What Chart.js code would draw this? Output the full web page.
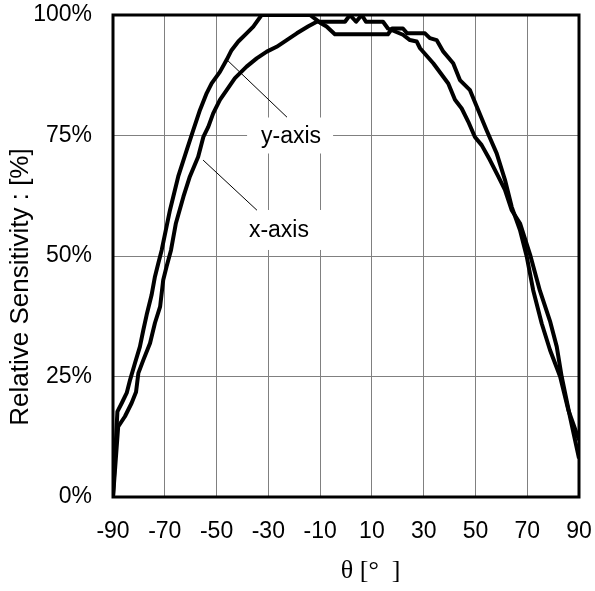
<!DOCTYPE html>
<html>
<head>
<meta charset="utf-8">
<script src="https://cdn.jsdelivr.net/npm/chart.js@4.4.1/dist/chart.umd.min.js"></script>
<style>
  html, body { margin: 0; padding: 0; background: #fff; }
</style>
</head>
<body>
<canvas id="chart" width="595" height="591"></canvas>
<script>
// sensitivity curves (angle in degrees, value in %)
const thetaY = [-90, -88.3, -86.6, -84.7, -83.4, -81.5, -79.6, -78.3, -77.0, -75.1, -73.8, -72.5, -71.2,
    -68.0, -64.8, -61.5, -59.0, -56.4, -53.8, -51.9, -48.7, -46.1, -44.2, -41.6, -38.4, -35.8, -32.6,
    -13.9, -10.0, -7.5, -4.3, 16.2, 17.8, 22.0, 23.6, 30.5, 32.4, 35.0, 37.6, 41.4, 44.0, 47.9, 50.5,
    54.3, 58.2, 61.4, 64.0, 67.2, 69.8, 72.3, 75.6, 78.8, 82.7, 85.9, 89.1, 90];
const sensY = [0, 17.7, 19.5, 21.6, 24.3, 27.8, 31.2, 34.6, 37.8, 41.9, 45.7, 48.5, 51.2,
    59.5, 66.5, 72, 76.1, 80.3, 83.8, 85.8, 88.2, 90.7, 92.7, 94.5, 96.2, 97.6, 100,
    100, 98.4, 97.6, 96, 96, 97.2, 97.2, 96.2, 96.2, 95.2, 94.8, 92.4, 90, 86.5, 84.4, 81,
    76.1, 71.3, 65.8, 60.2, 55.4, 49.9, 42.9, 36, 30.5, 25, 18, 13.2, 11.8];

const thetaX = [-90, -88.0, -85.4, -82.8, -81.1, -80.2, -78.3, -75.7, -73.8, -71.8, -70.6, -69.3, -67.6,
    -65.7, -62.8, -60.3, -57.1, -55.1, -53.2, -51.3, -48.7, -46.1, -42.9, -38.4, -34.5, -30.6, -26.8,
    -22.9, -19.0, -14.7, -11.3, -0.4, 1.5, 3.9, 6.1, 7.7, 14.3, 16.2, 22.0, 24.7, 27.3, 28.6, 33.7,
    39.5, 42.1, 44.7, 47.2, 49.8, 52.4, 55.6, 58.8, 61.4, 64.0, 67.2, 71.1, 74.9, 78.8, 81.4, 83.3,
    86.5, 90];
const sensX = [0, 14.6, 16.7, 19.5, 21.8, 25.7, 28.4, 31.9, 36.1, 39.5, 45, 47.8, 51.2,
    56.8, 62.3, 66.5, 70.6, 74.7, 76.8, 79.6, 82.4, 84.4, 86.9, 89.3, 91, 92.4, 93.4,
    94.8, 96.2, 97.6, 98.6, 98.6, 100, 98.6, 100, 98.6, 98.6, 97.2, 95.9, 94.8, 94.5, 93.1, 90,
    85.8, 82.4, 80.6, 77.9, 74.7, 73, 69.9, 66.5, 63.7, 59.5, 56.8, 50.3, 42.8, 36.5, 31.2, 25,
    16.7, 8];

const xTicks = [-90, -70, -50, -30, -10, 10, 30, 50, 70, 90];
const yTicks = [0, 25, 50, 75, 100];
const seriesNames = ['y-axis', 'x-axis'];

// callout labels, in data units: label centre, leader start and end
const callouts = [
    { text: seriesNames[0], at: [-21.6, 75], from: [-45.6, 90.5], to: [-22.8, 78.8], w: 86, h: 36 },
    { text: seriesNames[1], at: [-26.3, 55.4], from: [-55.2, 69.9], to: [-34.4, 59.5], w: 88, h: 40 }
];

const SANS = '"Liberation Sans", Arial, sans-serif';
const SERIF = '"Liberation Serif", "Times New Roman", serif';

const toPoints = (xs, ys) => xs.map((x, i) => ({ x: x, y: ys[i] }));

// keep the plot box where the original has it: no extra room for tick label overflow
const noPad = s => { s.paddingTop = s.paddingBottom = s.paddingLeft = s.paddingRight = 0; };

const overlay = {
    id: 'overlay',
    beforeDatasetsDraw(chart) {
        const ctx = chart.ctx, sx = chart.scales.x, sy = chart.scales.y;
        ctx.save();
        ctx.fillStyle = '#fff';
        callouts.forEach(c => {
            const cx = sx.getPixelForValue(c.at[0]);
            const cy = sy.getPixelForValue(c.at[1]);
            ctx.fillRect(cx - c.w / 2, cy - c.h / 2, c.w, c.h);
        });
        ctx.restore();
    },
    afterDatasetsDraw(chart) {
        const ctx = chart.ctx, sx = chart.scales.x, sy = chart.scales.y;
        const a = chart.chartArea;
        ctx.save();
        // leader lines and labels
        ctx.strokeStyle = '#000';
        ctx.lineWidth = 1;
        ctx.fillStyle = '#000';
        ctx.font = '23px ' + SANS;
        ctx.textAlign = 'center';
        ctx.textBaseline = 'middle';
        callouts.forEach(c => {
            ctx.beginPath();
            ctx.moveTo(sx.getPixelForValue(c.from[0]), sy.getPixelForValue(c.from[1]));
            ctx.lineTo(sx.getPixelForValue(c.to[0]), sy.getPixelForValue(c.to[1]));
            ctx.stroke();
            ctx.fillText(c.text, sx.getPixelForValue(c.at[0]) + 1, sy.getPixelForValue(c.at[1]) + 1);
        });
        // plot frame
        ctx.lineWidth = 3;
        ctx.strokeRect(a.left, a.top, a.right - a.left, a.bottom - a.top);
        // axis titles
        ctx.font = '26px ' + SERIF;
        ctx.fillText('θ [°  ]', a.left + (a.right - a.left) * 0.553, 571);
        ctx.translate(21, 287);
        ctx.rotate(-Math.PI / 2);
        ctx.font = '26px ' + SANS;
        ctx.fillText('Relative Sensitivity : [%]', 0, 0);
        ctx.restore();
    }
};

new Chart(document.getElementById('chart'), {
    type: 'line',
    data: {
        datasets: [
            { label: seriesNames[0], data: toPoints(thetaY, sensY) },
            { label: seriesNames[1], data: toPoints(thetaX, sensX) }
        ]
    },
    options: {
        responsive: false,
        animation: false,
        layout: { padding: { top: 15, right: 16, left: 0, bottom: 0 } },
        elements: {
            line: { borderColor: '#000', borderWidth: 4, tension: 0, fill: false, borderJoinStyle: 'round' },
            point: { radius: 0 }
        },
        plugins: { legend: { display: false }, tooltip: { enabled: false } },
        scales: {
            x: {
                type: 'linear',
                min: -90,
                max: 90,
                afterFit: s => { s.height = 94; noPad(s); },
                afterBuildTicks: s => { s.ticks = xTicks.map(v => ({ value: v })); },
                grid: { color: '#808080', lineWidth: 1, drawTicks: false },
                border: { display: false },
                ticks: { color: '#000', font: { family: SANS, size: 23 }, padding: 21, maxRotation: 0, autoSkip: false }
            },
            y: {
                type: 'linear',
                min: 0,
                max: 100,
                afterFit: s => { s.width = 113; noPad(s); },
                afterBuildTicks: s => { s.ticks = yTicks.map(v => ({ value: v })); },
                grid: { color: '#808080', lineWidth: 1, drawTicks: false },
                border: { display: false },
                ticks: { color: '#000', font: { family: SANS, size: 23 }, padding: 21, callback: v => v + '%' }
            }
        }
    },
    plugins: [overlay]
});
</script>
</body>
</html>
